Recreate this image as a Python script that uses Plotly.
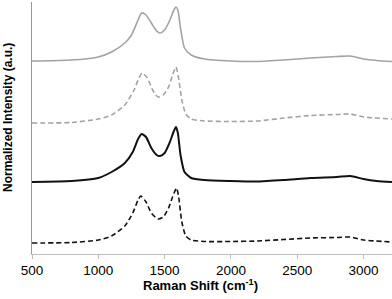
import plotly.graph_objects as go

# Raman shift positions (cm^-1) and intensities (arbitrary offset units)
x_s1 = [500, 700, 900, 1000, 1100, 1200, 1250, 1300, 1327, 1360, 1400, 1440, 1465, 1500,
        1540, 1570, 1586, 1600, 1620, 1650, 1700, 1800, 2000, 2200, 2400, 2600, 2800, 2900,
        3000, 3100, 3215]
y_s1 = [61, 60.5, 59, 57, 52, 43, 35, 20, 13, 15, 23, 31, 33, 30,
        20, 10, 7, 10, 28, 48, 55, 59, 61, 61.5, 60, 58, 56.5, 56,
        59, 60.5, 61.5]

x_s2 = [500, 800, 1000, 1100, 1200, 1270, 1300, 1330, 1370, 1410, 1450, 1490, 1530, 1560,
        1586, 1605, 1630, 1660, 1700, 1800, 2000, 2200, 2400, 2600, 2800, 2900, 3000, 3215]
y_s2 = [123, 122.5, 119, 115, 105, 90, 80, 73, 78, 90, 97, 95, 87, 75,
        67, 78, 100, 114, 119, 121, 121.5, 121, 118, 115.5, 114.5, 114, 117, 119]

x_s3 = [500, 800, 1000, 1100, 1200, 1260, 1300, 1327, 1360, 1400, 1440, 1465, 1500, 1540,
        1570, 1586, 1600, 1620, 1650, 1700, 1800, 2000, 2200, 2400, 2600, 2800, 2900, 3000,
        3100, 3215]
y_s3 = [182, 181, 178, 172, 163, 152, 139, 134, 137, 148, 155, 156, 153, 142,
        131, 127, 133, 155, 172, 178, 180, 181, 181.5, 180, 178, 177, 176, 179,
        181, 182]

x_s4 = [500, 800, 1000, 1100, 1200, 1260, 1300, 1320, 1360, 1400, 1450, 1490, 1530, 1560,
        1590, 1605, 1630, 1660, 1700, 1800, 2000, 2200, 2400, 2600, 2800, 2900, 3000, 3215]
y_s4 = [243, 242.5, 240, 236, 226, 213, 200, 196, 202, 213, 219, 217, 208, 197,
        188, 196, 222, 236, 240, 241.5, 241.5, 241, 239.5, 238, 237.5, 237, 240, 242]

x_ticks = [500, 1000, 1500, 2000, 2500, 3000]


def to_height(vals):
    return [254 - v for v in vals]


series = [
    (x_s1, y_s1, "#a3a3a3", 1.6, "solid"),
    (x_s2, y_s2, "#a3a3a3", 1.6, "5px,3px"),
    (x_s3, y_s3, "#111111", 2.0, "solid"),
    (x_s4, y_s4, "#111111", 1.6, "5px,3px"),
]

fig = go.Figure()
for xs, ys, col, w, dash in series:
    fig.add_trace(go.Scatter(x=xs, y=to_height(ys), mode="lines",
                             line=dict(color=col, width=w, dash=dash, shape="spline", smoothing=0.6),
                             showlegend=False, hoverinfo="skip"))

fig.update_layout(
    width=392, height=299,
    margin=dict(l=32, r=0, t=2, b=45, autoexpand=False),
    paper_bgcolor="white", plot_bgcolor="white",
    font=dict(family="Liberation Sans, Arial, sans-serif", color="#000000"),
    xaxis=dict(range=[500, 3215], tickvals=x_ticks, ticktext=[str(t) for t in x_ticks],
               showgrid=False, zeroline=False, showline=True, linecolor="#bdbdbd", linewidth=1.2,
               ticks="outside", ticklen=4, tickcolor="#bdbdbd", tickfont=dict(size=13.5),
               automargin=False),
    yaxis=dict(range=[0, 252], showgrid=False, zeroline=False, showline=True,
               linecolor="#999999", linewidth=1, showticklabels=False, ticks="",
               automargin=False),
    annotations=[
        dict(text="<b>Raman Shift (cm<sup>-1</sup>)</b>", xref="paper", yref="paper",
             x=(200 - 32) / 360, y=0, yshift=-31, xanchor="center", yanchor="middle",
             showarrow=False, font=dict(size=13)),
        dict(text="<b>Normalized Intensity (a.u.)</b>", xref="paper", yref="paper",
             x=0, xshift=-24, y=(254 - 118) / 252, xanchor="center", yanchor="middle",
             textangle=-90, showarrow=False, font=dict(size=12)),
    ],
)

fig.write_html("out.html", config={"displayModeBar": False, "staticPlot": True},
               post_script="document.body.style.margin='0';document.body.style.overflow='hidden';")
